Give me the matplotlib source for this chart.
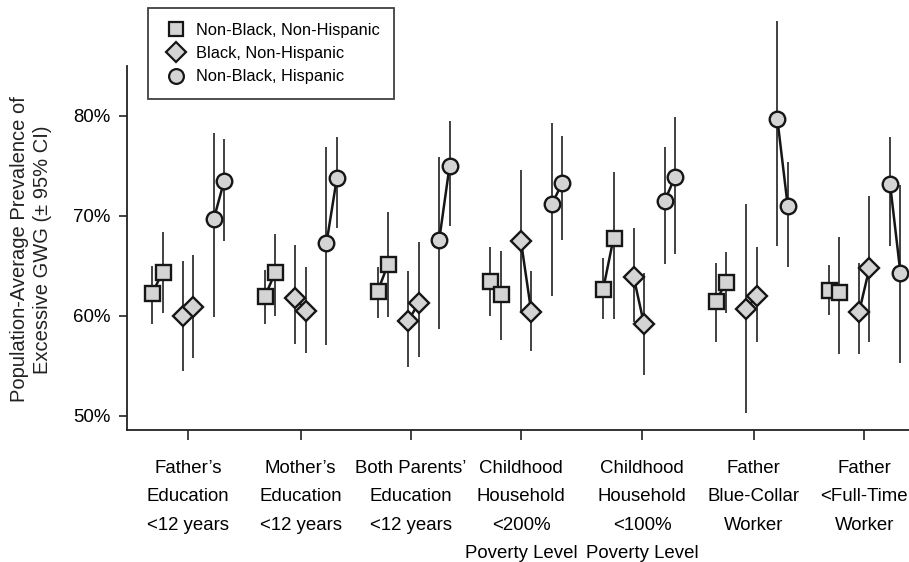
import matplotlib
matplotlib.use('Agg')
import matplotlib.pyplot as plt
import numpy as np
from matplotlib.lines import Line2D

plt.rcParams['font.family'] = ['Liberation Sans', 'DejaVu Sans']

# categorias (eixo x)
grupos = ["Father\u2019s\nEducation\n<12 years",
          "Mother\u2019s\nEducation\n<12 years",
          "Both Parents\u2019\nEducation\n<12 years",
          "Childhood\nHousehold\n<200%\nPoverty Level",
          "Childhood\nHousehold\n<100%\nPoverty Level",
          "Father\nBlue-Collar\nWorker",
          "Father\n<Full-Time\nWorker"]

racas = ["Non-Black, Non-Hispanic", "Black, Non-Hispanic", "Non-Black, Hispanic"]

# Non-Black, Non-Hispanic (dois pontos por grupo)
nbnh_est = [[62.3, 64.4], [62.0, 64.4], [62.5, 65.2], [63.5, 62.2], [62.7, 67.8], [61.5, 63.4], [62.6, 62.4]]
nbnh_lo = [[59.2, 60.3], [59.2, 60.0], [59.8, 59.9], [60.0, 57.6], [59.7, 59.7], [57.4, 60.3], [60.1, 56.2]]
nbnh_hi = [[65.0, 68.4], [64.6, 68.2], [64.9, 70.4], [66.9, 66.5], [65.8, 74.4], [65.3, 66.4], [65.1, 67.9]]

# Black, Non-Hispanic
bnh_est = [[60.0, 60.9], [61.8, 60.5], [59.5, 61.3], [67.5, 60.4], [63.9, 59.2], [60.7, 62.0], [60.4, 64.8]]
bnh_lo = [[54.5, 55.8], [57.2, 56.3], [54.9, 55.9], [60.3, 56.5], [59.4, 54.1], [50.3, 57.4], [56.2, 57.4]]
bnh_hi = [[65.5, 66.1], [67.1, 64.9], [64.5, 67.4], [74.6, 64.5], [68.8, 64.3], [71.2, 66.9], [65.3, 72.0]]

# Non-Black, Hispanic
nbh_est = [[69.7, 73.5], [67.3, 73.8], [67.6, 75.0], [71.2, 73.3], [71.5, 73.9], [79.7, 71.0], [73.2, 64.3]]
nbh_lo = [[59.9, 67.5], [57.1, 68.8], [58.7, 69.0], [62.0, 67.6], [65.2, 66.2], [67.0, 64.9], [67.0, 55.3]]
nbh_hi = [[78.3, 77.7], [76.9, 77.9], [75.9, 79.5], [79.3, 78.0], [76.9, 79.9], [89.5, 75.4], [77.9, 73.1]]

series = [(nbnh_est, nbnh_lo, nbnh_hi, 's'),
          (bnh_est, bnh_lo, bnh_hi, 'D'),
          (nbh_est, nbh_lo, nbh_hi, 'o')]

fig = plt.figure(figsize=(9.09, 5.62), dpi=100)
ax = fig.add_axes([0.1397, 0.2349, 0.8603, 0.7651])

cinza = '#d4d4d4'
borda = '#161616'
ms = {'s': 10.8, 'D': 10.2, 'o': 11.2}

xg = np.arange(len(grupos))
desloc_raca = [-0.27, 0.0, 0.275]
desloc_par = np.array([-0.046, 0.046])

for (est, lo, hi, mk), dr in zip(series, desloc_raca):
    est = np.array(est); lo = np.array(lo); hi = np.array(hi)
    for i in range(len(grupos)):
        xs = xg[i] + dr + desloc_par
        ax.vlines(xs, lo[i], hi[i], color='#333333', lw=1.3, zorder=1)  # IC 95%
        ax.plot(xs, est[i], color=borda, lw=1.8, zorder=2)
        ax.plot(xs, est[i], linestyle='none', marker=mk, ms=ms[mk], mfc=cinza,
                mec=borda, mew=1.7, zorder=3)

ax.set_xlim(-0.541, 6.397)
ax.set_ylim(48.6, 91.6)
# os ticks do original nao ficam exatamente no centro de cada grupo
ax.set_xticks(xg + np.array([0, 0, -0.025, -0.045, 0.03, 0.02, 0]))
ax.set_xticklabels(grupos, fontsize=13.4, linespacing=1.88, va='top')
ax.set_yticks([50, 60, 70, 80])
ax.set_yticklabels(['50%', '60%', '70%', '80%'], fontsize=13.4)
ax.tick_params(axis='x', length=7, width=1.2, pad=14.5, color='#222222')
ax.tick_params(axis='y', length=6, width=1.2, pad=6, color='#222222')

for s in ['top', 'right']:
    ax.spines[s].set_visible(False)
ax.spines['left'].set_bounds(48.6, 85.0)
ax.spines['left'].set_linewidth(1.3)
ax.spines['bottom'].set_linewidth(1.3)
ax.spines['left'].set_color('#222222')
ax.spines['bottom'].set_color('#222222')

ax.set_ylabel('Population-Average Prevalence of\nExcessive GWG (\u00b1 95% CI)',
              fontsize=14.5, linespacing=1.25, color='#222222')
ax.yaxis.set_label_coords(-0.096, 0.42)

handles = [Line2D([], [], linestyle='none', marker=mk, ms=ms[mk] * 0.95, mfc=cinza,
                  mec=borda, mew=1.6) for (_, _, _, mk) in series]
leg = ax.legend(handles, racas, loc='upper left', bbox_to_anchor=(0.027, 0.981),
                borderaxespad=0, fontsize=11.8, frameon=True, fancybox=False,
                edgecolor='#111111', borderpad=0.9, labelspacing=0.5,
                handlelength=1.6, handletextpad=0.4)
leg.get_frame().set_linewidth(1.3)

fig.savefig('out.png', dpi=100)
